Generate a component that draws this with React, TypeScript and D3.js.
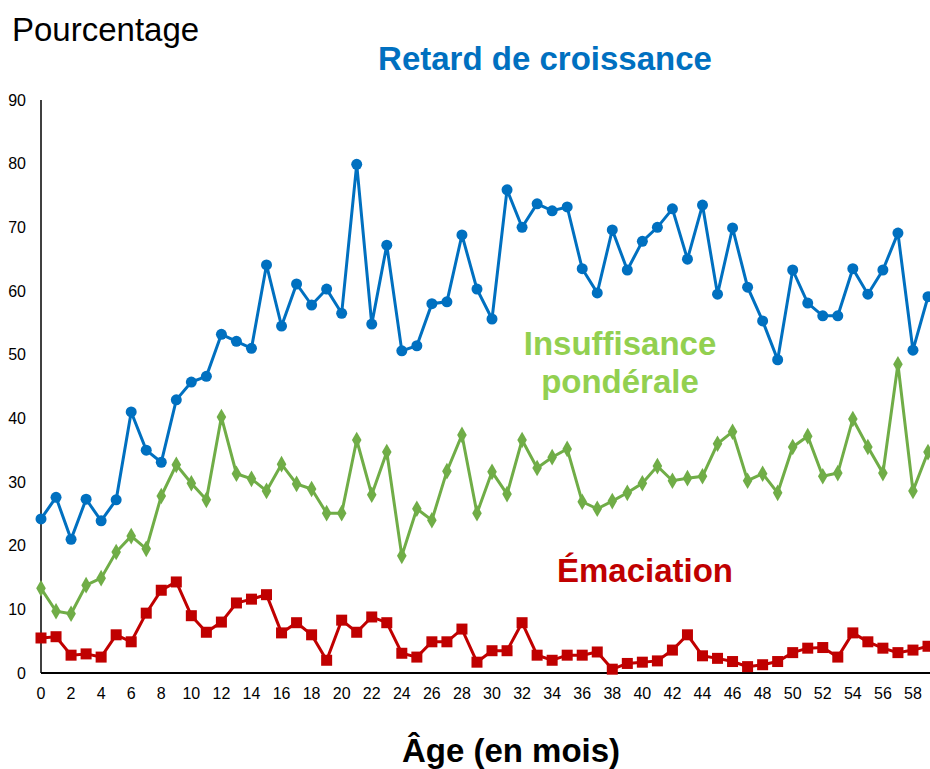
import React from 'react';
import * as d3 from 'd3';

const width = 930;
const height = 769;
const margin = { top: 100, right: 2, bottom: 96, left: 41 };

const months = d3.range(0, 60);
const xTickLabels = d3.range(0, 59, 2);
const yTickLabels = d3.range(0, 91, 10);

const stunting = [
  24.2, 27.6, 21.0, 27.3, 23.9, 27.2, 41.0, 35.0, 33.1, 42.9,
  45.7, 46.6, 53.2, 52.1, 51.0, 64.1, 54.5, 61.1, 57.8, 60.3,
  56.5, 79.9, 54.8, 67.2, 50.6, 51.4, 58.0, 58.3, 68.8, 60.3,
  55.6, 75.9, 70.0, 73.7, 72.6, 73.2, 63.5, 59.7, 69.6, 63.3,
  67.8, 70.0, 72.9, 65.0, 73.5, 59.5, 69.9, 60.6, 55.3, 49.2,
  63.3, 58.1, 56.1, 56.1, 63.5, 59.5, 63.3, 69.1, 50.7, 59.1
];

const underweight = [
  13.3, 9.7, 9.3, 13.8, 14.9, 19.0, 21.5, 19.5, 27.8, 32.7,
  29.8, 27.2, 40.2, 31.3, 30.5, 28.6, 32.8, 29.7, 28.9, 25.1,
  25.1, 36.6, 28.0, 34.7, 18.4, 25.8, 24.0, 31.7, 37.4, 25.1,
  31.6, 28.1, 36.6, 32.2, 33.9, 35.2, 26.9, 25.8, 27.0, 28.3,
  29.8, 32.5, 30.2, 30.6, 30.9, 36.0, 37.9, 30.2, 31.3, 28.3,
  35.5, 37.2, 30.9, 31.4, 39.9, 35.5, 31.4, 48.5, 28.6, 34.7
];

const wasting = [
  5.5, 5.7, 2.8, 3.0, 2.5, 6.0, 4.9, 9.4, 13.0, 14.3,
  9.0, 6.4, 8.0, 11.0, 11.6, 12.3, 6.3, 7.9, 6.0, 2.0,
  8.3, 6.4, 8.8, 7.9, 3.1, 2.5, 4.9, 4.9, 6.9, 1.7,
  3.5, 3.5, 7.9, 2.8, 2.0, 2.8, 2.8, 3.3, 0.6, 1.5,
  1.7, 1.9, 3.6, 6.0, 2.7, 2.3, 1.8, 1.0, 1.3, 1.8,
  3.2, 3.9, 4.0, 2.5, 6.3, 4.9, 3.9, 3.2, 3.6, 4.2
];

const font = '"Liberation Sans", Arial, sans-serif';

const x = d3.scaleLinear().domain([0, 59]).range([margin.left, 928]);
const y = d3.scaleLinear().domain([0, 90]).range([height - margin.bottom, margin.top]);

const lineGen = d3
  .line<number>()
  .x((_, i) => x(months[i]))
  .y((d) => y(d));

const diamond = d3.symbol().type(d3.symbolDiamond).size(80)();

export default function App() {
  return (
    <div style={{ position: 'absolute', left: 0, top: 0 }}>
      <svg width={width} height={height} style={{ background: 'white', display: 'block' }}>
        {/* axes */}
        <line x1={x(0)} x2={width} y1={y(0)} y2={y(0)} stroke="black" strokeWidth={2} />
        <line x1={x(0)} x2={x(0)} y1={y(0)} y2={y(90)} stroke="black" strokeWidth={1.5} />
        {yTickLabels.map((t) => (
          <text key={t} x={26} y={y(t)} dy="0.35em" textAnchor="end" fontFamily={font} fontSize={16}>
            {t}
          </text>
        ))}
        {xTickLabels.map((t) => (
          <text key={t} x={x(t)} y={699} textAnchor="middle" fontFamily={font} fontSize={16}>
            {t}
          </text>
        ))}

        {/* series */}
        <path d={lineGen(stunting) || ''} fill="none" stroke="#0070C0" strokeWidth={3} />
        {stunting.map((d, i) => (
          <circle key={i} cx={x(months[i])} cy={y(d)} r={5.5} fill="#0070C0" />
        ))}

        <path d={lineGen(underweight) || ''} fill="none" stroke="#70AD47" strokeWidth={3} />
        {underweight.map((d, i) => (
          <path key={i} d={diamond || ''} transform={`translate(${x(months[i])},${y(d)})`} fill="#70AD47" />
        ))}

        <path d={lineGen(wasting) || ''} fill="none" stroke="#C00000" strokeWidth={3} />
        {wasting.map((d, i) => (
          <rect key={i} x={x(months[i]) - 5.5} y={y(d) - 5.5} width={11} height={11} fill="#C00000" />
        ))}

        {/* labels */}
        <text x={12} y={41} fontFamily={font} fontSize={33}>Pourcentage</text>
        <text x={545} y={70} textAnchor="middle" fontFamily={font} fontSize={33} fontWeight="bold" fill="#0070C0">
          Retard de croissance
        </text>
        <text x={620} y={355} textAnchor="middle" fontFamily={font} fontSize={33} fontWeight="bold" fill="#92D050">
          Insuffisance
        </text>
        <text x={620} y={393} textAnchor="middle" fontFamily={font} fontSize={33} fontWeight="bold" fill="#92D050">
          pondérale
        </text>
        <text x={645} y={582} textAnchor="middle" fontFamily={font} fontSize={33} fontWeight="bold" fill="#C00000">
          Émaciation
        </text>
        <text x={511} y={762} textAnchor="middle" fontFamily={font} fontSize={33} fontWeight="bold">
          Âge (en mois)
        </text>
      </svg>
    </div>
  );
}
